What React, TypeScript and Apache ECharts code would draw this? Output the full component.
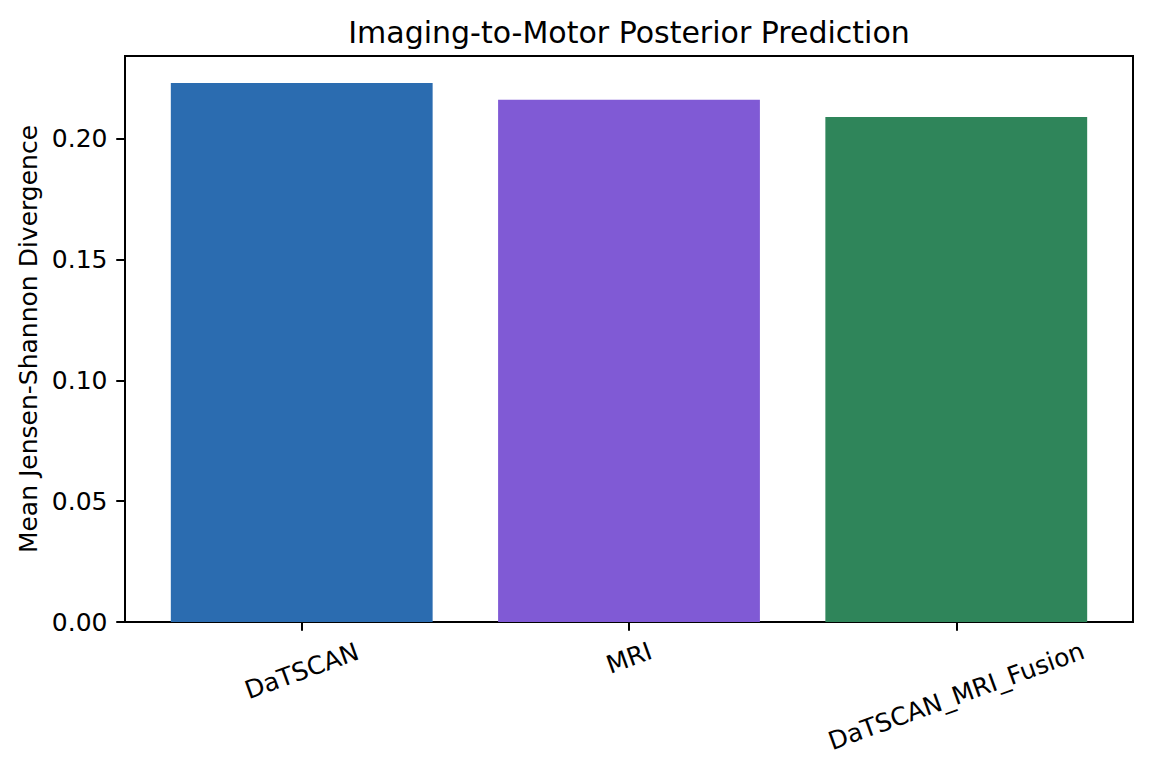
import React, { useEffect, useRef } from "react";
import * as echarts from "echarts";

const categories = ["DaTSCAN", "MRI", "DaTSCAN_MRI_Fusion"];
const values = [0.2232, 0.2162, 0.2091];
const colors = ["#2B6CB0", "#805AD5", "#2F855A"];
const yTicks = [0, 0.05, 0.1, 0.15, 0.2];
const xPositions = [0, 1, 2];
const labelMargins = [49, 36, 74];

const FONT = "DejaVu Sans";

export default function App() {
  const ref = useRef<HTMLDivElement>(null);
  useEffect(() => {
    if (!ref.current) return;
    const chart = echarts.init(ref.current, null, { renderer: "svg" });
    const xMin = -0.54;
    const xMax = 2.54;
    const yMax = Math.max(...values) * 1.05;
    const xAxes = categories.map((_, i) => ({
      type: "value",
      min: xMin,
      max: xMax,
      position: "bottom",
      offset: 0,
      splitLine: { show: false },
      splitArea: { show: false },
      axisLine: { show: i === 0, onZero: false, lineStyle: { color: "#000", width: 2 } },
      axisTick: {
        show: i === 0,
        customValues: xPositions,
        length: 8.75,
        lineStyle: { color: "#000", width: 2 },
      },
      axisLabel: {
        customValues: [xPositions[i]],
        formatter: (v: number) => categories[Math.round(v)] ?? "",
        rotate: 20,
        align: "center",
        verticalAlign: "middle",
        margin: labelMargins[i],
        color: "#000",
        fontFamily: FONT,
        fontSize: 25,
      },
    }));
    chart.setOption({
      animation: false,
      backgroundColor: "#fff",
      title: {
        text: "Imaging-to-Motor Posterior Prediction",
        left: 629,
        top: 17,
        padding: 0,
        textAlign: "center",
        textStyle: { color: "#000", fontFamily: FONT, fontSize: 30, fontWeight: "normal" },
      },
      grid: {
        left: 125,
        right: 19,
        top: 56,
        bottom: 152,
        show: true,
        borderColor: "#000",
        borderWidth: 2,
        backgroundColor: "transparent",
        containLabel: false,
      },
      xAxis: xAxes,
      yAxis: {
        type: "value",
        min: 0,
        max: yMax,
        position: "left",
        name: "Mean Jensen-Shannon Divergence",
        nameLocation: "middle",
        nameRotate: 90,
        nameGap: 95,
        nameTextStyle: { color: "#000", fontFamily: FONT, fontSize: 25, verticalAlign: "middle" },
        splitLine: { show: false },
        splitArea: { show: false },
        axisLine: { show: true, onZero: false, lineStyle: { color: "#000", width: 2 } },
        axisTick: {
          show: true,
          customValues: yTicks,
          length: 8.75,
          lineStyle: { color: "#000", width: 2 },
        },
        axisLabel: {
          customValues: yTicks,
          formatter: (v: number) => v.toFixed(2),
          margin: 17.5,
          color: "#000",
          fontFamily: FONT,
          fontSize: 25,
        },
      },
      series: [
        {
          type: "custom",
          xAxisIndex: 0,
          yAxisIndex: 0,
          data: values.map((v, i) => [xPositions[i], v]),
          renderItem: (params: any, api: any) => {
            const x = api.value(0);
            const y = api.value(1);
            const topLeft = api.coord([x - 0.4, y]);
            const bottomRight = api.coord([x + 0.4, 0]);
            return {
              type: "rect",
              shape: {
                x: topLeft[0],
                y: topLeft[1],
                width: bottomRight[0] - topLeft[0],
                height: bottomRight[1] - topLeft[1],
              },
              style: { fill: colors[params.dataIndex] },
            };
          },
        },
      ],
    });
    return () => chart.dispose();
  }, []);
  return (
    <div
      ref={ref}
      style={{ position: "fixed", left: 0, top: 0, width: 1152, height: 774, background: "#fff" }}
    />
  );
}
